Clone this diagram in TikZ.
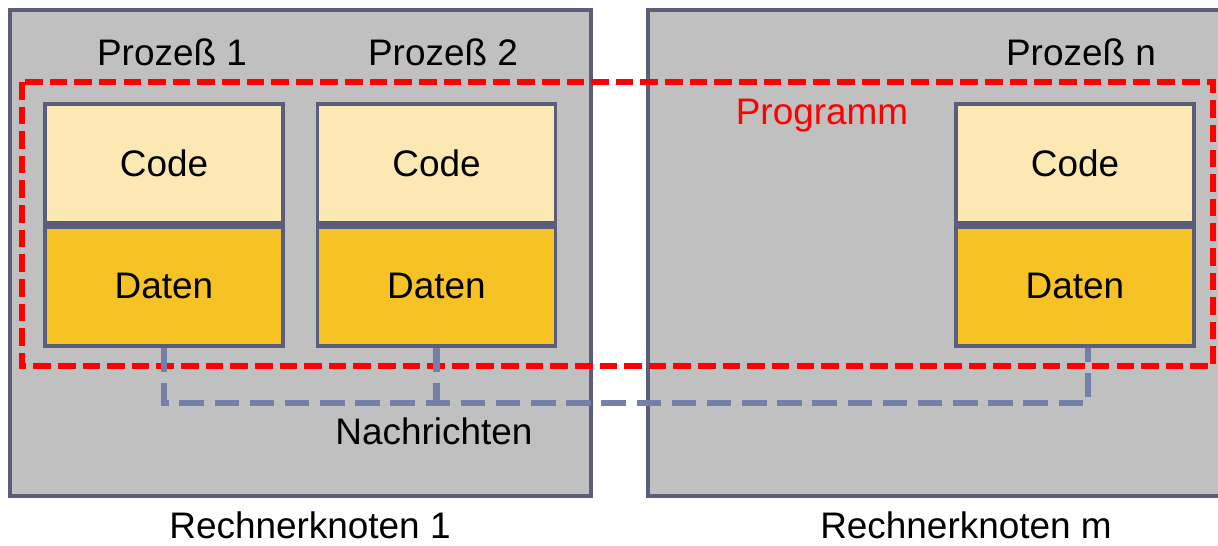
\documentclass[tikz,border=0pt]{standalone}
\usepackage{fontspec}
\setmainfont{Liberation Sans}
\usetikzlibrary{positioning}

\definecolor{hostgray}{HTML}{C0C0C0}
\definecolor{framegray}{HTML}{5A5E7A}
\definecolor{codefill}{HTML}{FCE8B2}
\definecolor{datafill}{HTML}{F7C223}
\definecolor{msgblue}{HTML}{7480A8}

\begin{document}
\begin{tikzpicture}[
    x=0.01cm, y=-0.01cm,
    font=\fontsize{10.5}{12.6}\selectfont,
    host/.style={draw=framegray, line width=1.1pt, fill=hostgray, rectangle},
    codebox/.style={draw=framegray, line width=1.1pt, fill=codefill, rectangle, minimum width=238*0.01cm, minimum height=119*0.01cm},
    databox/.style={codebox, fill=datafill},
    prog/.style={draw=red, line width=1.7pt, dash pattern=on 5pt off 2pt},
    msg/.style={draw=msgblue, line width=1.8pt, dash pattern=on 7pt off 3pt}
]
    \clip (0,0) rectangle (1218,545);

    % Rechnerknoten
    \node[host, minimum width=581*0.01cm, minimum height=486*0.01cm] (host1) at (300.5,253) {};
    \node[host, minimum width=592*0.01cm, minimum height=486*0.01cm] (hostm) at (944,253) {};

    % Programm
    \draw[prog] (22,82) rectangle (1213,366);
    \node[text=red] (progl) at (822,116) {Programm};

    % Prozesse
    \node[codebox] (code1) at (164,163.5) {Code};
    \node[databox, below=0pt of code1] (data1) {Daten};
    \node[codebox] (code2) at (436.5,163.5) {Code};
    \node[databox, below=0pt of code2] (data2) {Daten};
    \node[codebox] (coden) at (1075,163.5) {Code};
    \node[databox, below=0pt of coden] (datan) {Daten};

    \node (p1) at (172,52) {Prozeß 1};
    \node (p2) at (443,52) {Prozeß 2};
    \node (pn) at (1081,52) {Prozeß n};

    % Nachrichten
    \draw[msg] (data1.south) -- ++(0,55) -| ([xshift=13*0.01cm]datan.south);
    \draw[msg] (data2.south) -- ++(0,55);
    \node (msgl) at (434,431) {Nachrichten};

    \node (r1) at (310,525) {Rechnerknoten 1};
    \node (rm) at (966,525) {Rechnerknoten m};
\end{tikzpicture}
\end{document}
